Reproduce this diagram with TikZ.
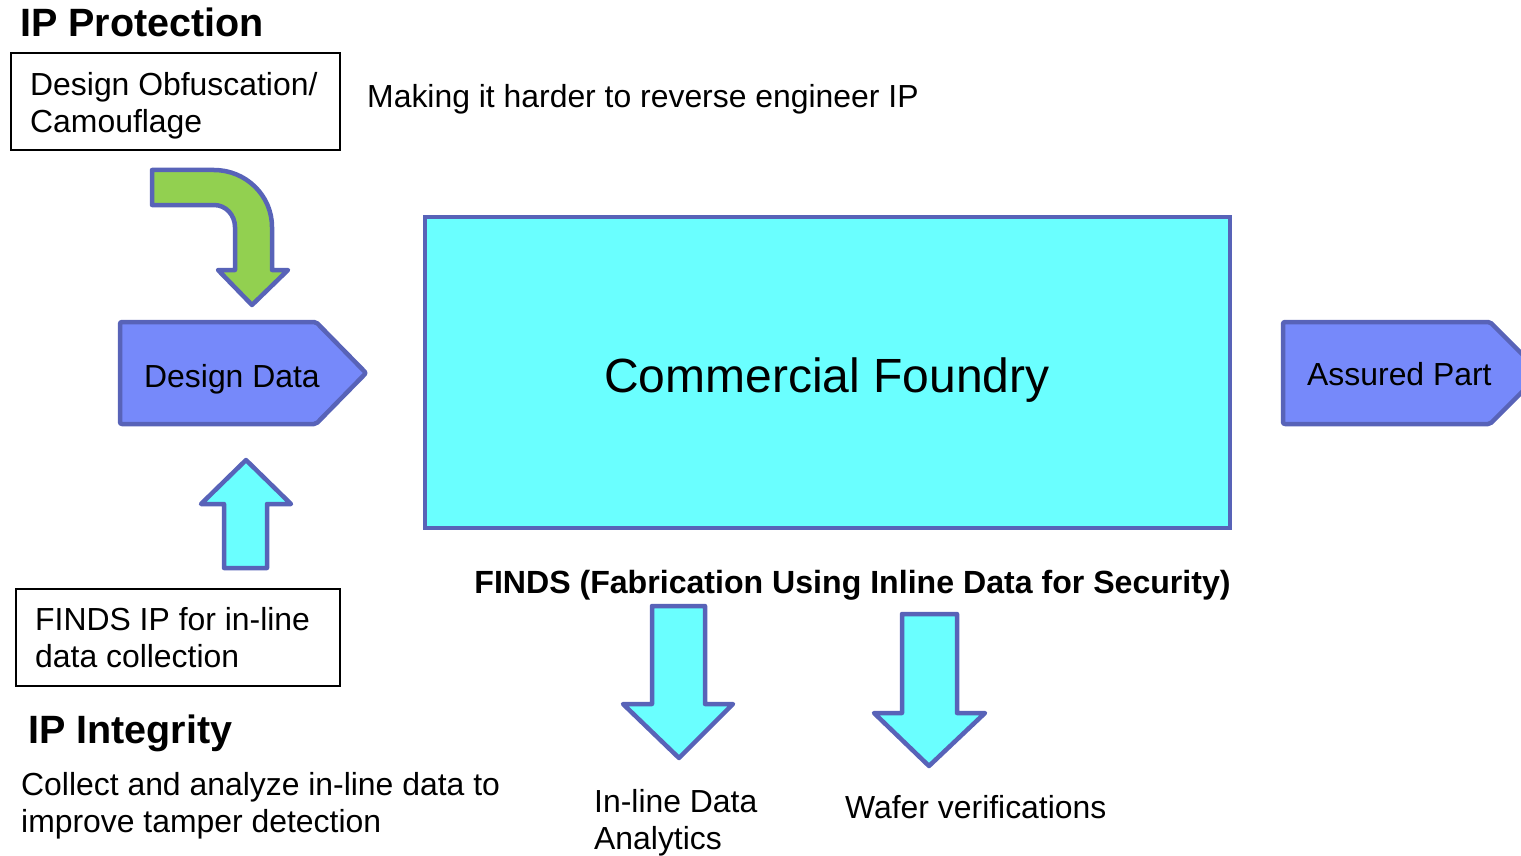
\documentclass[tikz,border=0pt]{standalone}
\usepackage{fontspec}
\setmainfont{Liberation Sans}
\definecolor{edge}{RGB}{88,99,184}
\definecolor{penta}{RGB}{118,137,250}
\definecolor{aqua}{RGB}{106,255,255}
\definecolor{leaf}{RGB}{146,208,80}
\begin{document}
\begin{tikzpicture}[x=1pt,y=-1pt,
  body/.style={font=\fontsize{31.9}{37}\selectfont, inner sep=0pt, align=left},
  headtxt/.style={font=\fontsize{39.5}{44}\selectfont\bfseries, inner sep=0pt},
  findstxt/.style={font=\fontsize{32.1}{37}\selectfont\bfseries, inner sep=0pt},
  bigtxt/.style={font=\fontsize{48}{54}\selectfont, inner sep=0pt},
  framebox/.style={draw=black, line width=1.6pt, inner sep=0pt, anchor=north west},
  blockshape/.style={draw=edge, line width=4.5pt, line join=round},
]
\useasboundingbox (0,0) rectangle (1521,856);
\clip (0,0) rectangle (1521,856);

% headings
\node[headtxt, anchor=base west] (iphead) at (20,37) {IP Protection};
\node[headtxt, anchor=base west] (inthead) at (28,743) {IP Integrity};

% top box
\node[framebox, minimum width=329pt, minimum height=97pt] (obf) at (10,52) {};
\node[body, anchor=north west] (obftxt) at (30,72) {Design Obfuscation/\\Camouflage};
\node[body, anchor=base west] (making) at (367,108) {Making it harder to reverse engineer IP};

% bottom-left box
\node[framebox, minimum width=324pt, minimum height=97pt] (findsip) at (15,588) {};
\node[body, anchor=north west] (findsiptxt) at (35,607) {FINDS IP for in-line\\data collection};
\node[body, anchor=north west] (collect) at (21,772) {Collect and analyze in-line data to\\improve tamper detection};

% green bent arrow
\path[blockshape, fill=leaf]
  (152,170) -- (214,170)
  .. controls (245.7,170) and (272,195.3) .. (272,227)
  -- (272,270) -- (288,270) -- (252,305) -- (218,270) -- (235,270) -- (235,227)
  .. controls (235,215.1) and (225.9,205) .. (214,205)
  -- (152,205) -- cycle;

% Design Data pentagon
\path[blockshape, fill=penta, rounded corners=2pt]
  (120,322) -- (316,322) -- (366,373) -- (316,424) -- (120,424) -- cycle;
\node[body, anchor=base west] (design) at (144,387) {Design Data};

% up arrow
\path[blockshape, fill=aqua]
  (246,460) -- (291,504) -- (267,504) -- (267,568) -- (224,568) -- (224,504) -- (201,504) -- cycle;

% foundry
\node[draw=edge, line width=4.5pt, fill=aqua, minimum width=805pt, minimum height=311pt, inner sep=0pt] (foundry) at (827.5,372.5) {};
\node[bigtxt, anchor=base] (foundrytxt) at (827,392) {Commercial Foundry};

% Assured Part pentagon
\path[blockshape, fill=penta, rounded corners=2pt]
  (1283,322) -- (1490,322) -- (1541,373) -- (1490,424) -- (1283,424) -- cycle;
\node[body, anchor=base west] (assured) at (1307,385) {Assured Part};

% FINDS label
\node[findstxt, anchor=base] (finds) at (852.5,593) {FINDS (Fabrication Using Inline Data for Security)};

% down arrows
\path[blockshape, fill=aqua]
  (652,606) -- (705,606) -- (705,704) -- (733,704) -- (679,758) -- (623,704) -- (652,704) -- cycle;
\path[blockshape, fill=aqua]
  (902,614) -- (957,614) -- (957,713) -- (985,713) -- (929,766) -- (874,713) -- (902,713) -- cycle;

\node[body, anchor=north west] (inline) at (594,789) {In-line Data\\Analytics};
\node[body, anchor=base west] (wafer) at (845,818) {Wafer verifications};
\end{tikzpicture}
\end{document}
